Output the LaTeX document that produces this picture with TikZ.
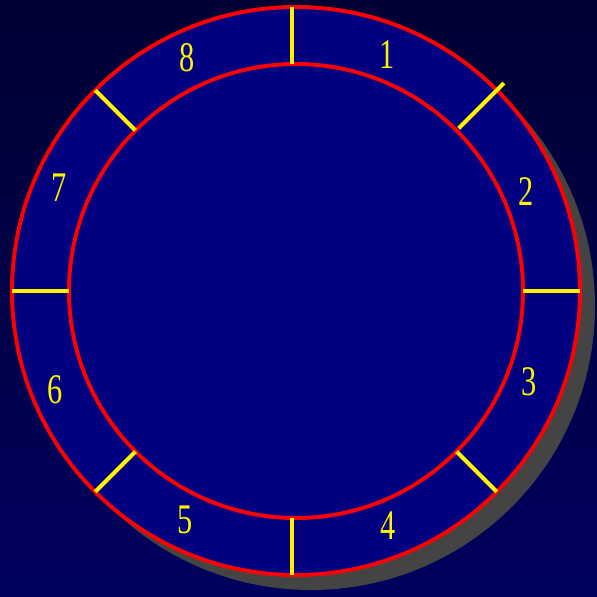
\documentclass[tikz,border=0pt]{standalone}
\usepackage{xcolor}
\usepackage{fontspec}
\usepackage{tikz}
\newfontfamily\dialfont[FakeStretch=0.72]{Liberation Serif}
\definecolor{bgtop}{HTML}{000033}
\definecolor{bgbot}{HTML}{00005E}
\definecolor{dialblue}{HTML}{000080}
\definecolor{shadowgray}{HTML}{444444}

\begin{document}
\begin{tikzpicture}[
  rim/.style={draw=red, line width=2.8pt},
  tick/.style={draw=yellow, line width=2.8pt},
  digit/.style={text=yellow, inner sep=0pt, font=\dialfont\fontsize{30}{30}\selectfont}
]

% Background
\useasboundingbox (-7.4,-7.65) rectangle (7.525,7.275);
\shade[top color=bgtop, bottom color=bgbot] (-7.4,-7.65) rectangle (7.525,7.275);

% Shadow
\fill[shadowgray] (0.375,-0.375) circle (7.1);

% Dial
\coordinate (centre) at (0,0);
\fill[dialblue] (centre) circle (7.1);
\draw[rim] (centre) circle (7.1);
\draw[rim] (centre) circle (5.675);

% Ticks
\draw[tick] (-0.1,5.675) -- (-0.1,7.1);
\draw[tick] (-0.1,-5.675) -- (-0.1,-7.1);
\draw[tick] (45:5.75) -- (45:7.35);
\foreach \a in {0,-45,180,135,-135}
  \draw[tick] (\a:5.675) -- (\a:7.1);

% Numbers
\foreach \a/\r/\n in {68.9/6.33/1, 23.5/6.26/2, -21.3/6.25/3, -68.6/6.31/4,
                      -115.9/6.36/5, -157.7/6.51/6, 156.5/6.46/7, 115/6.44/8}
  \node[digit] (num\n) at (\a:\r) {\n};

\end{tikzpicture}
\end{document}
